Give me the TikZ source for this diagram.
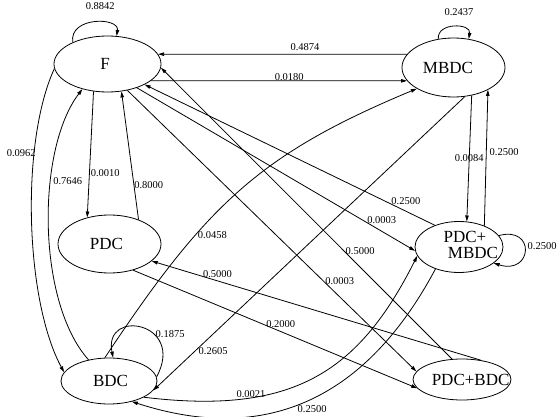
\documentclass[tikz,border=0pt]{standalone}
\usepackage{fontspec}
\setmainfont{Liberation Serif}
\usetikzlibrary{shapes.geometric,arrows.meta}
\newcommand{\shiftx}[2]{\makebox[0pt]{\hspace*{#1}\hspace*{#1}#2}}
\begin{document}
\begin{tikzpicture}[x=1pt,y=1pt,
	st/.style={ellipse,draw,line width=0.8pt,inner sep=0pt,font=\fontsize{17}{15.5}\selectfont},
	lbl/.style={font=\fontsize{10.5}{12}\selectfont,inner sep=1pt},
	arr/.style={line width=0.8pt,-{Triangle[length=6pt,width=3.5pt]}}]
		\useasboundingbox (0,0) rectangle (558,416);
		% states
		\node[st,minimum width=107pt,minimum height=56pt] (F) at (107.5,352) {\shiftx{-2.5pt}{F}};
		\node[st,minimum width=103pt,minimum height=59pt] (MBDC) at (453.5,348.5) {\shiftx{-5.5pt}{MBDC}};
		\node[st,minimum width=103pt,minimum height=58pt] (PDC) at (109.5,172) {\shiftx{-3pt}{PDC}};
		\node[st,minimum width=88pt,minimum height=51pt] (PM) at (459,169) {\shiftx{14pt}{\begin{tabular}{@{}c@{}}\hspace*{-16pt}PDC+\\MBDC\end{tabular}}};
		\node[st,minimum width=96pt,minimum height=46pt] (BDC) at (109,35) {\shiftx{1.5pt}{BDC}};
		\node[st,minimum width=98pt,minimum height=41pt] (PB) at (462,36.5) {\shiftx{8.6pt}{PDC+BDC}};
		% self loops
		\draw[arr] (F.148) .. controls +(-4,26) and +(3,19) .. node[lbl,above=11pt,xshift=6pt] {0.8842} (F.72);
		\draw[arr] (MBDC.118) .. controls +(95:17) and +(80:16) .. node[lbl,above=10pt,xshift=5pt] {0.2437} (MBDC.62);
		\draw[arr] (PM.16) .. controls +(37,10) and +(39,-12) .. node[lbl,right=1.5pt,yshift=4pt] {0.2500} (PM.-25);
		\draw[arr] (BDC.5) .. controls +(29.5,54.8) and +(-10,50) .. node[lbl,pos=0.3,anchor=south west,xshift=-4pt] {0.1875} (BDC.80);
		% F and MBDC
		\draw[arr] (MBDC.164) -- node[lbl,pos=0.41,above=2pt] {0.4874} (F.11);
		\draw[arr] (F.-21) -- node[lbl,pos=0.54,above=-1pt] {0.0180} (MBDC.-164);
		% F, PDC and BDC
		\draw[arr] (F.185) .. controls +(-34,-74) and +(-39,72) .. node[lbl,pos=0.3,left=-3pt] {0.0962} (BDC.169);
		\draw[arr] (BDC.134) .. controls +(-52,58) and +(-46,-60) .. node[lbl,pos=0.64,right=1pt] {0.7646} (F.225);
		\draw[arr] (F.243) -- node[lbl,pos=0.65,right] {0.0010} (PDC.130);
		\draw[arr] (PDC.40) -- node[lbl,pos=0.27,right=-1pt] {0.8000} (F.297);
		% F to the right
		\draw[arr] (F.-39) -- node[lbl,pos=0.88,above=6pt] {0.0003} (PM.185);
		\draw[arr] (PM.138) -- node[lbl,pos=0.1,above=5pt] {0.2500} (F.-29);
		\draw[arr] (F.-53) -- node[lbl,pos=0.68,right] {0.0003} (PB.170);
		\draw[arr] (PB.116) -- node[lbl,pos=0.37,right] {0.5000} (F.-4);
		% MBDC and PDC+MBDC
		\draw[arr] (MBDC.-57) -- node[lbl,midway] {0.0084} (PM.73);
		\draw[arr] (PM.40) -- node[lbl,pos=0.54,right=2pt] {0.2500} (MBDC.-33);
		% crossing the middle
		\draw[arr] (BDC.100) .. controls +(102,154) and +(-156,-65) .. node[lbl,pos=0.33,right=1pt] {0.0458} (MBDC.210);
		\draw[arr] (MBDC.-69) -- node[lbl,pos=0.865,right=2pt] {0.2605} (BDC.-12);
		\draw[arr] (PB.46) -- node[lbl,pos=0.8,above=2pt] {0.5000} (PDC.-22);
		\draw[arr] (PDC.-48) -- node[lbl,pos=0.52,above=3pt] {0.2000} (PB.191);
		\draw[arr] (BDC.-25) .. controls +(149,-18) and +(-59,-117) .. node[lbl,pos=0.28,above=-1pt] {0.0021} (PM.192);
		\draw[arr] (PM.223) .. controls +(-90.5,-169.6) and +(89,-28.7) .. node[lbl,pos=0.4,below=7pt,xshift=-3pt] {0.2500} (BDC.-42);
\end{tikzpicture}
\end{document}
